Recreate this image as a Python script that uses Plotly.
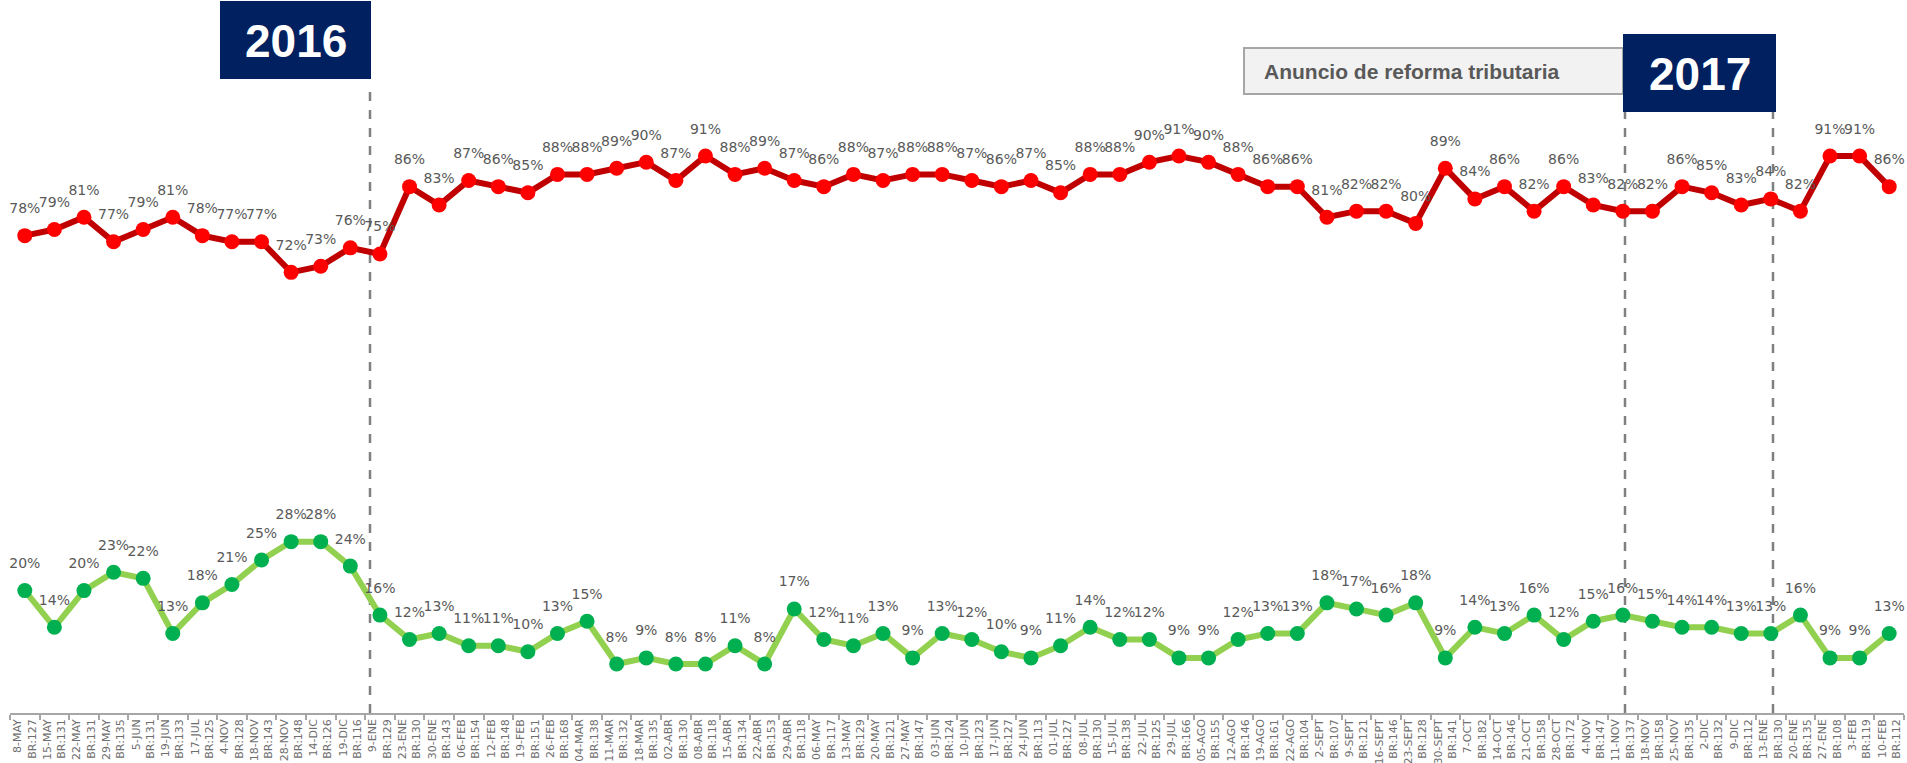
import plotly.graph_objects as go

# ---------------- data ----------------
fechas = ["8-MAY", "15-MAY", "22-MAY", "29-MAY", "5-JUN", "19-JUN", "17-JUL", "4-NOV",
          "18-NOV", "28-NOV", "14-DIC", "19-DIC", "9-ENE", "23-ENE", "30-ENE", "06-FEB",
          "12-FEB", "19-FEB", "26-FEB", "04-MAR", "11-MAR", "18-MAR", "02-ABR", "08-ABR",
          "15-ABR", "22-ABR", "29-ABR", "06-MAY", "13-MAY", "20-MAY", "27-MAY", "03-JUN",
          "10-JUN", "17-JUN", "24-JUN", "01-JUL", "08-JUL", "15-JUL", "22-JUL", "29-JUL",
          "05-AGO", "12-AGO", "19-AGO", "22-AGO", "2-SEPT", "9-SEPT", "16-SEPT", "23-SEPT",
          "30-SEPT", "7-OCT", "14-OCT", "21-OCT", "28-OCT", "4-NOV", "11-NOV", "18-NOV",
          "25-NOV", "2-DIC", "9-DIC", "13-ENE", "20-ENE", "27-ENE", "3-FEB", "10-FEB"]
base_br = [127, 131, 131, 135, 131, 133, 125, 128, 143, 148, 126, 116, 129, 130, 143, 154,
           148, 151, 168, 138, 132, 135, 130, 118, 134, 153, 118, 117, 129, 121, 147, 124,
           123, 127, 113, 127, 130, 138, 125, 166, 155, 146, 161, 104, 107, 121, 146, 128,
           141, 182, 146, 158, 172, 147, 137, 158, 135, 132, 112, 130, 135, 108, 119, 112]
serie_roja = [78, 79, 81, 77, 79, 81, 78, 77, 77, 72, 73, 76, 75, 86, 83, 87,
              86, 85, 88, 88, 89, 90, 87, 91, 88, 89, 87, 86, 88, 87, 88, 88,
              87, 86, 87, 85, 88, 88, 90, 91, 90, 88, 86, 86, 81, 82, 82, 80,
              89, 84, 86, 82, 86, 83, 82, 82, 86, 85, 83, 84, 82, 91, 91, 86]
serie_verde = [20, 14, 20, 23, 22, 13, 18, 21, 25, 28, 28, 24, 16, 12, 13, 11,
               11, 10, 13, 15, 8, 9, 8, 8, 11, 8, 17, 12, 11, 13, 9, 13,
               12, 10, 9, 11, 14, 12, 12, 9, 9, 12, 13, 13, 18, 17, 16, 18,
               9, 14, 13, 16, 12, 15, 16, 15, 14, 14, 13, 13, 16, 9, 9, 13]
etiqueta_2016 = "2016"
etiqueta_2017 = "2017"
etiqueta_reforma = "Anuncio de reforma tributaria"

categorias = [f"{f}<br>BR:{b}" for f, b in zip(fechas, base_br)]

# ---------------- geometry helpers (layout only) ----------------
W, H = 1907, 763
ML, MR, MT, MB = 10, 3, 0, 50
PLOT_W = W - ML - MR
PLOT_H = H - MT - MB
N = len(categorias)
SX = PLOT_W / N
Y_MAX = 116.5
SY = PLOT_H / Y_MAX
LABEL_LIFT = 26 / SY  # data labels sit ~26 px above each point


def X(px):
    return (px - ML) / SX - 0.5


def Y(py):
    return (H - MB - py) / SY


LABEL_FONT = dict(family="DejaVu Sans", size=14, color="#595959")

fig = go.Figure()

for vals, lc, mc in [(serie_roja, "#C00000", "#FF0000"), (serie_verde, "#92D050", "#00B050")]:
    fig.add_trace(go.Scatter(
        x=categorias, y=vals, mode="lines+markers",
        line=dict(color=lc, width=6),
        marker=dict(color=mc, size=15),
        showlegend=False, hoverinfo="skip"))
    fig.add_trace(go.Scatter(
        x=categorias, y=[v + LABEL_LIFT for v in vals], mode="text",
        text=[f"{v}%" for v in vals], textposition="middle center",
        textfont=LABEL_FONT, cliponaxis=False, showlegend=False, hoverinfo="skip"))

shapes = []
# dashed separators
for px, ytop in [(370, 85), (1625, 112), (1773, 112)]:
    shapes.append(dict(type="line", xref="x", yref="y", x0=X(px), x1=X(px),
                       y0=0, y1=Y(ytop), line=dict(color="#808080", width=2.5, dash="dash"),
                       layer="below"))
# 2016 box
shapes.append(dict(type="rect", xref="x", yref="y", x0=X(220), x1=X(371), y0=Y(79), y1=Y(1),
                   fillcolor="#002060", line=dict(width=0), layer="above"))
# reforma box
shapes.append(dict(type="rect", xref="x", yref="y", x0=X(1244), x1=X(1623), y0=Y(94), y1=Y(48),
                   fillcolor="#F2F2F2", line=dict(color="#A6A6A6", width=2), layer="above"))
# 2017 box
shapes.append(dict(type="rect", xref="x", yref="y", x0=X(1623), x1=X(1776), y0=Y(112), y1=Y(34),
                   fillcolor="#002060", line=dict(width=0), layer="above"))

annotations = [
    dict(x=X(295.5), y=Y(41), xref="x", yref="y", text=f"<b>{etiqueta_2016}</b>", showarrow=False,
         font=dict(family="Liberation Sans", size=46, color="white"), xanchor="center", yanchor="middle"),
    dict(x=X(1699.5), y=Y(74), xref="x", yref="y", text=f"<b>{etiqueta_2017}</b>", showarrow=False,
         font=dict(family="Liberation Sans", size=46, color="white"), xanchor="center", yanchor="middle"),
    dict(x=X(1262), y=Y(71), xref="x", yref="y", text=f"<b>{etiqueta_reforma}</b>", showarrow=False,
         font=dict(family="Liberation Sans", size=21, color="#595959"), xanchor="left", yanchor="middle"),
]

fig.update_layout(
    width=W, height=H, margin=dict(l=ML, r=MR, t=MT, b=MB, autoexpand=False),
    paper_bgcolor="white", plot_bgcolor="white",
    shapes=shapes, annotations=annotations,
    xaxis=dict(type="category", range=[-0.5, N - 0.5], tickson="boundaries",
               ticks="outside", ticklen=5, tickwidth=1.5, tickcolor="#A6A6A6",
               showline=True, linecolor="#A6A6A6", linewidth=1.5,
               showgrid=False, zeroline=False, tickangle=-90,
               tickfont=dict(family="DejaVu Sans", size=11, color="#6E6E6E"),
               automargin=False, fixedrange=True),
    yaxis=dict(range=[0, Y_MAX], visible=False, showgrid=False, zeroline=False,
               fixedrange=True),
)

fig.write_html("out.html", config={"displayModeBar": False},
               post_script="document.body.style.margin='0';document.body.style.overflow='hidden';")
